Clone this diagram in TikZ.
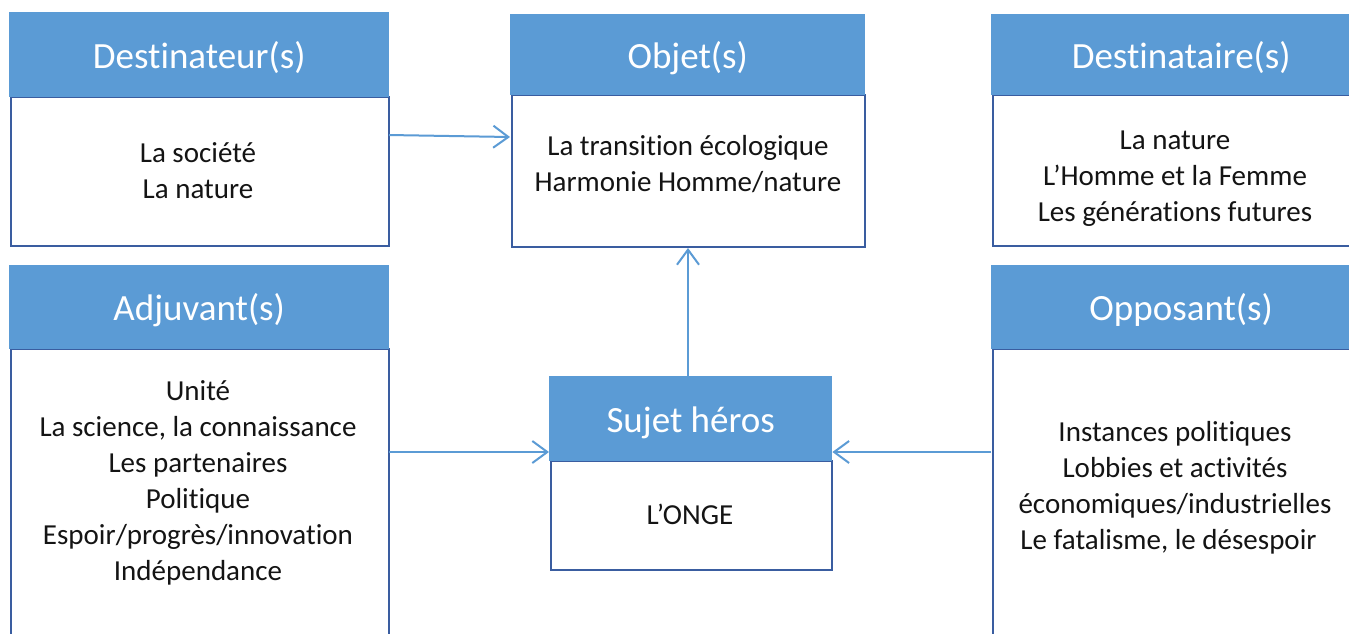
\documentclass[tikz,border=0pt]{standalone}
\usepackage{fontspec}
\setmainfont{Carlito}[Ligatures=NoCommon]
\usetikzlibrary{arrows.meta,calc}
\definecolor{hdrblue}{HTML}{5B9BD5}
\definecolor{edgeblue}{HTML}{3A5DA0}
\definecolor{arrblue}{HTML}{5B9BD5}
\definecolor{txt}{HTML}{141414}
\tikzset{
  hdr/.style={fill=hdrblue, draw=none, anchor=north west, inner sep=0pt, text=white, text height=27pt, text depth=0pt, font=\fontsize{37}{44}\selectfont},
  bodybox/.style={draw=edgeblue, line width=2pt, fill=white, anchor=north west, inner sep=0pt},
  bodytext/.style={text=txt, align=center, inner sep=0pt, font=\fontsize{29}{36}\selectfont},
  arr/.style={draw=arrblue, line width=2pt, -{Straight Barb[length=15pt, width=22pt, line width=2pt]}}
}
\begin{document}
\begin{tikzpicture}[x=1pt, y=-1pt]
\useasboundingbox (0,0) rectangle (1349,633);
\clip (0,0) rectangle (1349,633);
\fill[white] (0,0) rectangle (1349,633);

% Destinateur
\node[bodybox, minimum width=378pt, minimum height=149pt] (db) at (10,96) {};
\node[hdr, minimum width=380pt, minimum height=85pt] (dh) at (9,12) {Destinateur(s)};
\node[bodytext] (dt) at (198,171) {La société\\La nature};

% Objet
\node[bodybox, minimum width=353pt, minimum height=152pt] (ob) at (511,94) {};
\node[hdr, minimum width=355pt, minimum height=81pt] (oh) at (510,14) {Objet(s)};
\node[bodytext] (ot) at (688,164) {La transition écologique\\Harmonie Homme/nature};

% Destinataire
\node[bodybox, minimum width=378pt, minimum height=151pt] (tb) at (992,94) {};
\node[hdr, minimum width=380pt, minimum height=81pt] (th) at (991,14) {Destinataire(s)};
\node[bodytext] (tt) at (1175,179) {La nature\\L’Homme et la Femme\\Les générations futures};

% Adjuvant
\node[bodybox, minimum width=378pt, minimum height=320pt] (ab) at (10,348) {};
\node[hdr, minimum width=380pt, minimum height=84pt] (ah) at (9,265) {Adjuvant(s)};
\node[bodytext] (at) at (198,483) {Unité\\La science, la connaissance\\Les partenaires\\Politique\\Espoir/progrès/innovation\\Indépendance};

% Opposant
\node[bodybox, minimum width=378pt, minimum height=320pt] (pb) at (992,348) {};
\node[hdr, minimum width=380pt, minimum height=84pt] (ph) at (991,265) {Opposant(s)};
\node[bodytext] (pt) at (1175,488) {Instances politiques\\Lobbies et activités\\économiques/industrielles\\Le fatalisme, le désespoir\hspace*{13pt}};

% Sujet
\node[bodybox, minimum width=281pt, minimum height=109pt] (sb) at (550,460) {};
\node[hdr, minimum width=283pt, minimum height=85pt] (sh) at (549,376) {Sujet héros};
\node[bodytext] (st) at (690,514) {L’ONGE};

% connectors
\coordinate (da) at (389,135);
\coordinate (oa) at (510,137);
\draw[arr] (da) -- (oa);
\draw[arr] (688,376) coordinate (su) -- (su |- ob.south);
\coordinate (aa) at (389,452);
\draw[arr] (aa) -- (aa -| sh.west);
\coordinate (pa) at (991,452);
\draw[arr] (pa) -- (pa -| sh.east);
\end{tikzpicture}
\end{document}
